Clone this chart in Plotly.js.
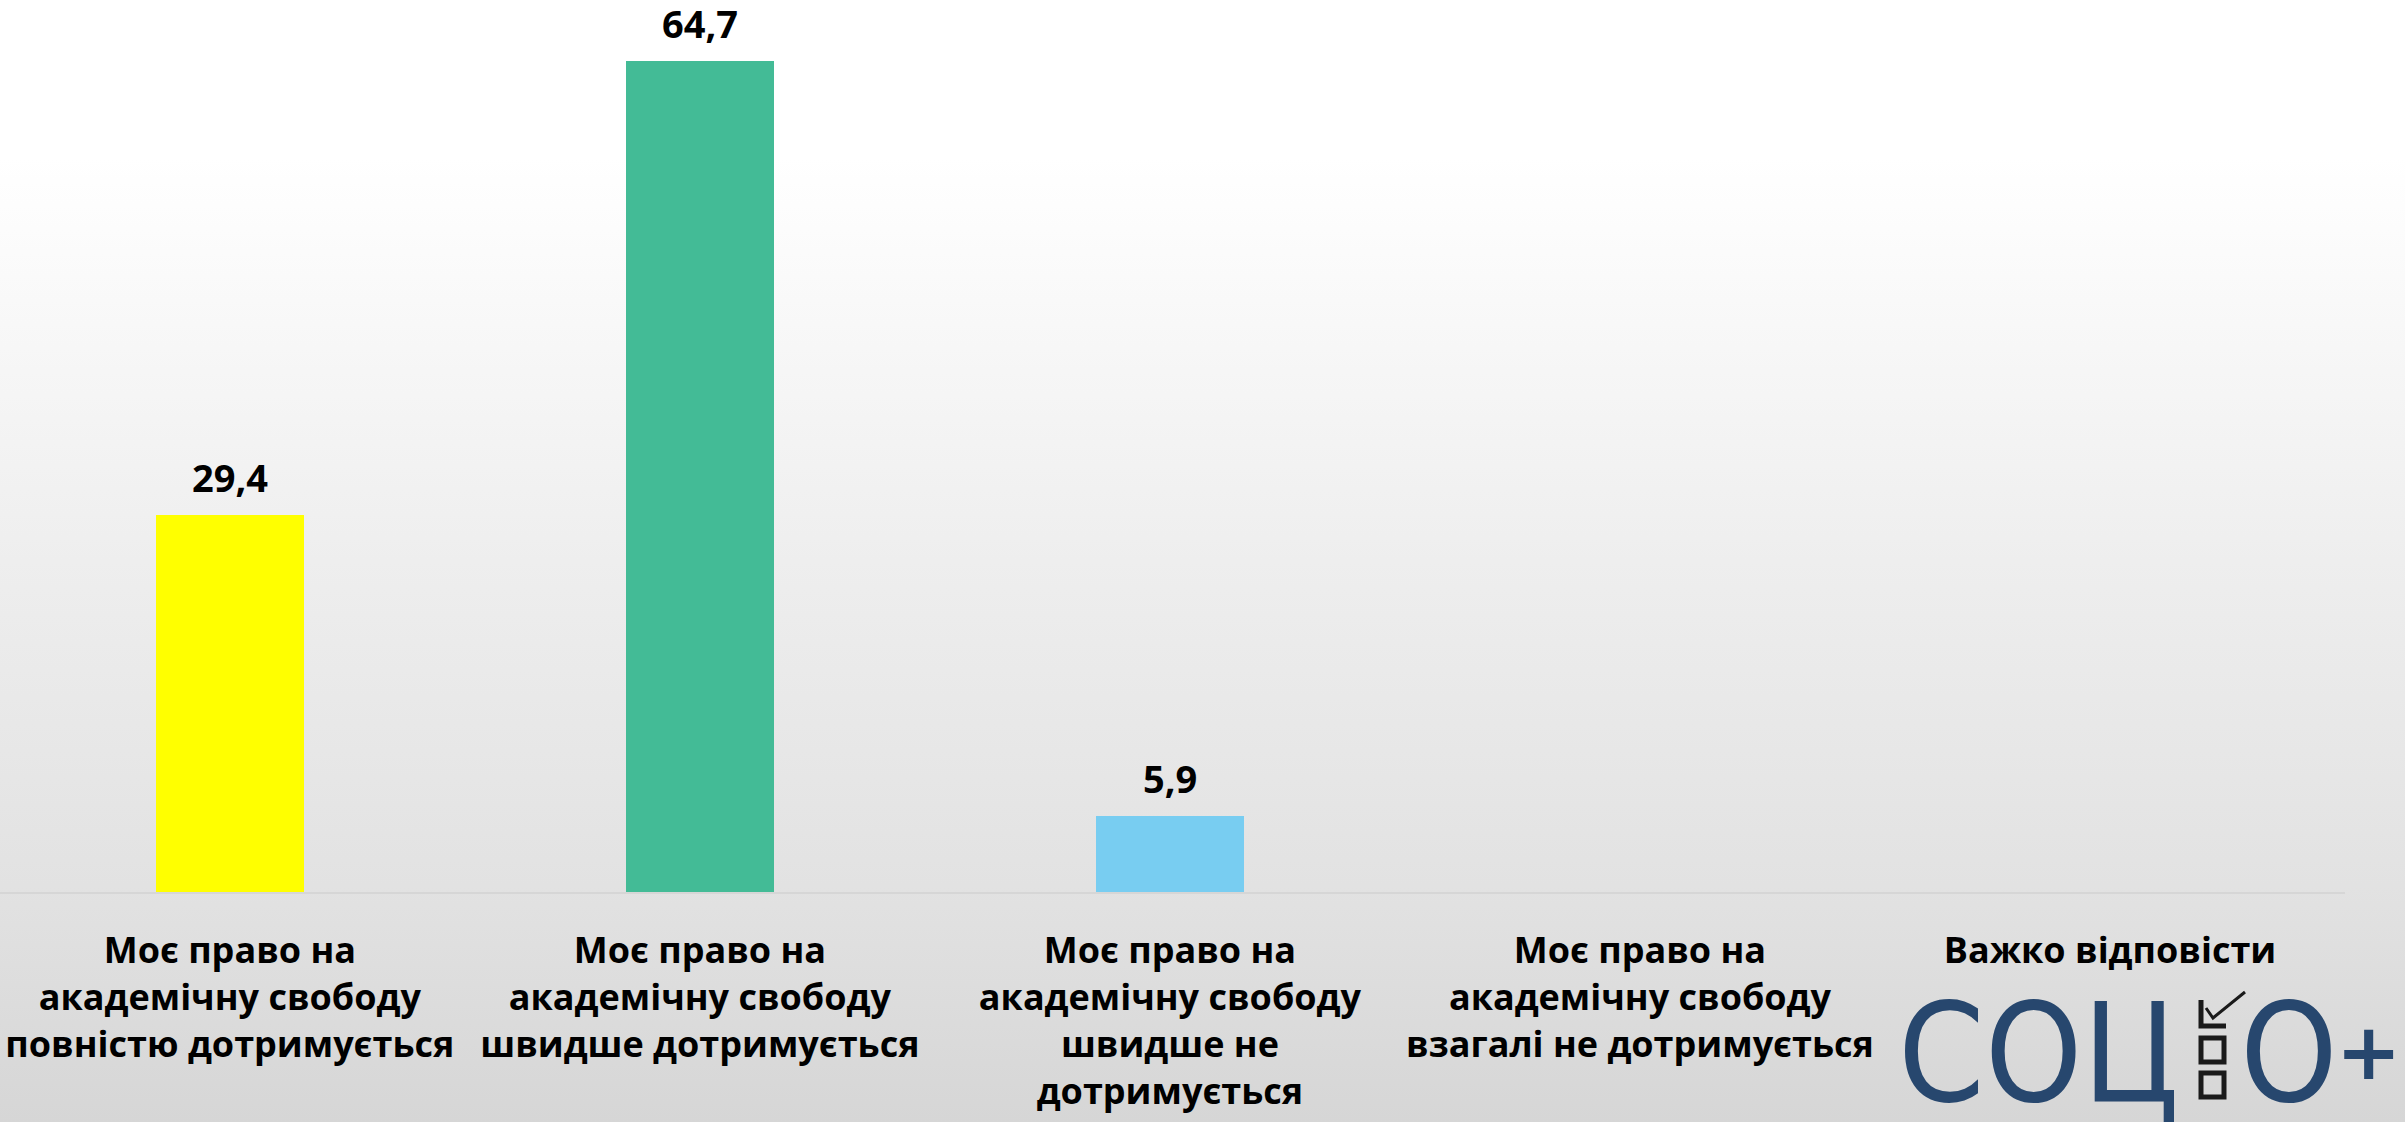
<!DOCTYPE html>
<html>
<head>
<meta charset="utf-8">
<script src="https://cdn.plot.ly/plotly-3.0.1.min.js"></script>
<style>
  html, body { margin: 0; padding: 0; }
  body {
    width: 2405px; height: 1122px; overflow: hidden;
    background: linear-gradient(to bottom, #ffffff 0%, #ffffff 14%, #eeeeee 50%, #e2e2e2 79%, #d6d6d6 100%);
  }
  #chart { width: 2405px; height: 1122px; }
</style>
</head>
<body>
<div id="chart"></div>
<script>
// ---- data ----
const categories = [
  "Моє право на<br>академічну свободу<br>повністю дотримується",
  "Моє право на<br>академічну свободу<br>швидше дотримується",
  "Моє право на<br>академічну свободу<br>швидше не<br>дотримується",
  "Моє право на<br>академічну свободу<br>взагалі не дотримується",
  "Важко відповісти"
];
const values = [29.4, 64.7, 5.9, null, null];
const barColors = ["#ffff00", "#43bb96", "#78cdf1", "#cccccc", "#cccccc"];
const labelTexts = values.map(v => v == null ? "" : v.toFixed(1).replace(".", ","));

const catIdx = categories.map((c, i) => i);

const trace = {
  type: "bar",
  x: catIdx,
  y: values,
  marker: { color: barColors },
  width: 0.315,
  hoverinfo: "skip"
};

const annotations = [];
values.forEach((v, i) => {
  if (v == null) return;
  annotations.push({
    x: i, y: v, xref: "x", yref: "y",
    text: labelTexts[i],
    showarrow: false,
    yanchor: "bottom",
    yshift: 10,
    font: { family: "Open Sans", size: 38, color: "#000000", weight: 700 }
  });
});

const layout = {
  width: 2405, height: 1122,
  margin: { l: 0, r: 60, t: 0, b: 230 },
  paper_bgcolor: "rgba(0,0,0,0)",
  plot_bgcolor: "rgba(0,0,0,0)",
  showlegend: false,
  bargap: 0,
  xaxis: {
    type: "linear",
    range: [-0.489, 4.5],
    tickvals: catIdx,
    ticktext: categories,
    tickfont: { family: "Open Sans", size: 36, color: "#000000", weight: 700 },
    showline: true, linecolor: "#d6d6d6", linewidth: 2,
    showgrid: false, zeroline: false, ticks: "",
    ticklabelstandoff: 26,
    fixedrange: true
  },
  yaxis: {
    range: [0, 69.47],
    visible: false,
    showgrid: false, zeroline: false,
    fixedrange: true
  },
  annotations: annotations,
  shapes: []
};

// ---- logo (СОЦІО+) placed in paper coordinates below the plot ----
function px(xp) { return xp / 2345; }
function py(yp) { return (892 - yp) / 892; }
const logoFont = { family: "DejaVu Sans Condensed", size: 138, color: "#27476e" };
layout.annotations.push(
  { xref: "paper", yref: "paper", x: px(1896), y: py(1136), xanchor: "left", yanchor: "bottom",
    text: "СОЦ", showarrow: false, font: logoFont },
  { xref: "paper", yref: "paper", x: px(2238), y: py(1136), xanchor: "left", yanchor: "bottom",
    text: "О", showarrow: false, font: logoFont },
  { xref: "paper", yref: "paper", x: px(2368), y: py(1052), xanchor: "center", yanchor: "middle",
    text: "+", showarrow: false, font: { family: "DejaVu Sans", size: 78, color: "#27476e", weight: 700 } }
);
const boxLine = { color: "#1a1a1a", width: 5 };
layout.shapes.push(
  { type: "rect", xref: "paper", yref: "paper", x0: px(2201), x1: px(2224), y0: py(1038), y1: py(1062), line: boxLine },
  { type: "rect", xref: "paper", yref: "paper", x0: px(2201), x1: px(2224), y0: py(1073), y1: py(1097), line: boxLine },
  { type: "path", xref: "paper", yref: "paper",
    path: `M ${px(2201)} ${py(1000)} L ${px(2201)} ${py(1026)} L ${px(2226)} ${py(1026)}`, line: boxLine },
  { type: "path", xref: "paper", yref: "paper",
    path: `M ${px(2206)} ${py(1008)} L ${px(2213)} ${py(1018)} L ${px(2245)} ${py(992)}`, line: { color: "#1a1a1a", width: 3 } }
);

Plotly.newPlot("chart", [trace], layout, { displayModeBar: false, staticPlot: true });
</script>
</body>
</html>
